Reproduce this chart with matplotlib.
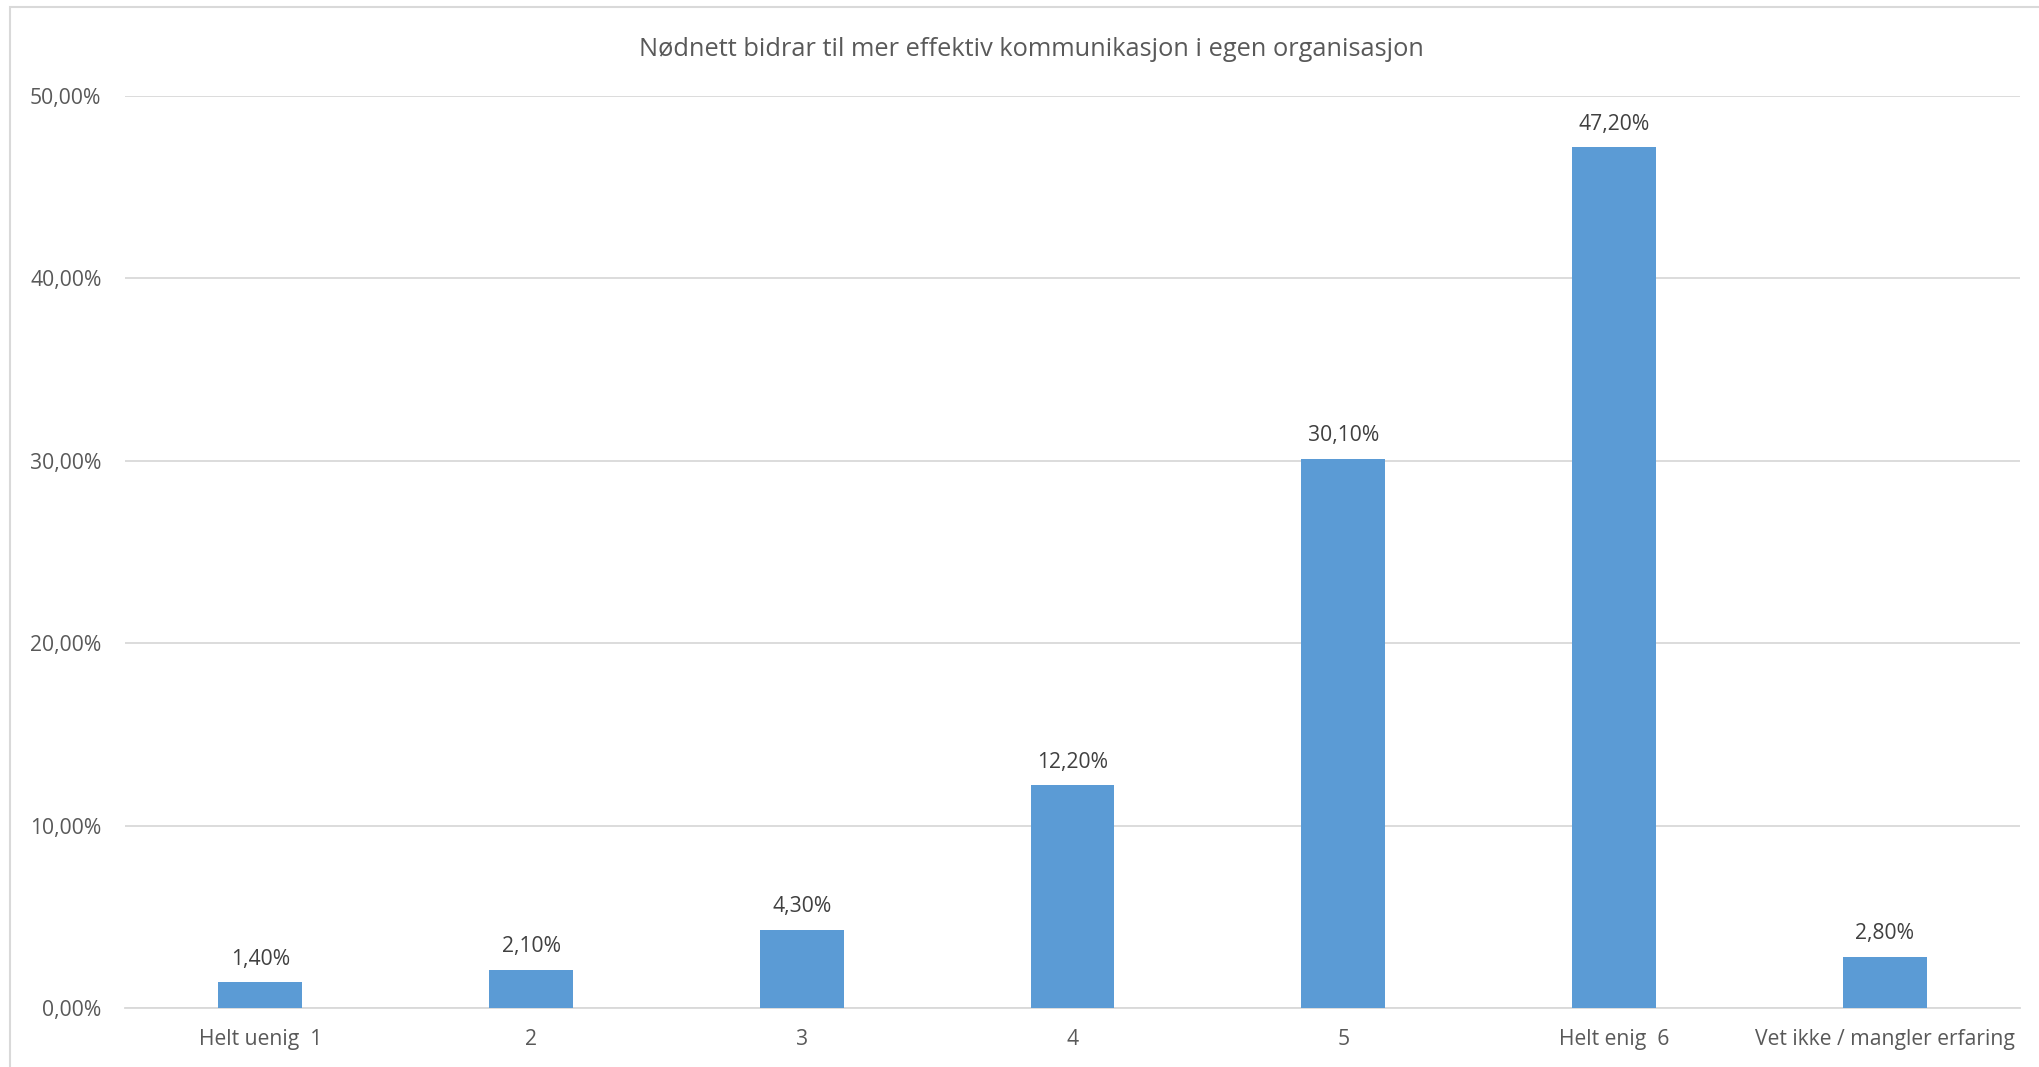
import matplotlib
matplotlib.use("Agg")
import matplotlib.pyplot as plt
from matplotlib.patches import Rectangle

plt.rcParams['font.family'] = ['Open Sans', 'DejaVu Sans']

# --------------------------------------
# Data
# --------------------------------------
title = "Nødnett bidrar til mer effektiv kommunikasjon i egen organisasjon"
categories = ["Helt uenig  1", "2", "3", "4", "5", "Helt enig  6", "Vet ikke / mangler erfaring"]
values = [0.014, 0.021, 0.043, 0.122, 0.301, 0.472, 0.028]
y_ticks = [0.0, 0.1, 0.2, 0.3, 0.4, 0.5]

bar_color = "#5B9BD5"
grid_color = "#D9D9D9"
text_color = "#595959"
label_color = "#404040"


def pct(v, decimals=2):
    return f"{v * 100:.{decimals}f}%".replace(".", ",")


fig = plt.figure(figsize=(20.39, 10.67), dpi=100)
ax = fig.add_axes([0.0613, 0.0553, 0.9294, 0.8547])

# chart frame (cut off at right / bottom like the reference)
fig.patches.append(Rectangle((0.0049, -0.1), 1.2, 0.9934 + 0.1,
                             transform=fig.transFigure, fill=False,
                             edgecolor=grid_color, linewidth=1.5))

x = range(len(categories))
bars = ax.bar(x, values, width=0.31, color=bar_color, zorder=3)

ax.set_xlim(-0.5, len(categories) - 0.5)
ax.set_ylim(0, 0.5)
ax.set_yticks(y_ticks)
ax.set_yticklabels([pct(v) for v in y_ticks])
ax.set_xticks(list(x))
ax.set_xticklabels(categories)

ax.tick_params(axis="y", length=0, pad=17, labelsize=15.2, labelcolor=text_color)
ax.tick_params(axis="x", length=0, pad=15, labelsize=15.2, labelcolor=text_color)

ax.grid(axis="y", color=grid_color, linewidth=1.3, zorder=0)
for s in ["top", "right", "left"]:
    ax.spines[s].set_visible(False)
ax.spines["bottom"].set_color(grid_color)
ax.spines["bottom"].set_linewidth(1.3)

# data labels
for xi, v in zip(x, values):
    ax.annotate(pct(v), (xi, v), xytext=(0, 9), textcoords="offset points",
                ha="center", va="bottom", fontsize=15.2, color=label_color)

fig.text(0.5057, 0.954, title, ha="center", va="center",
         fontsize=18.3, color=text_color)

fig.savefig("out.png", dpi=100)
